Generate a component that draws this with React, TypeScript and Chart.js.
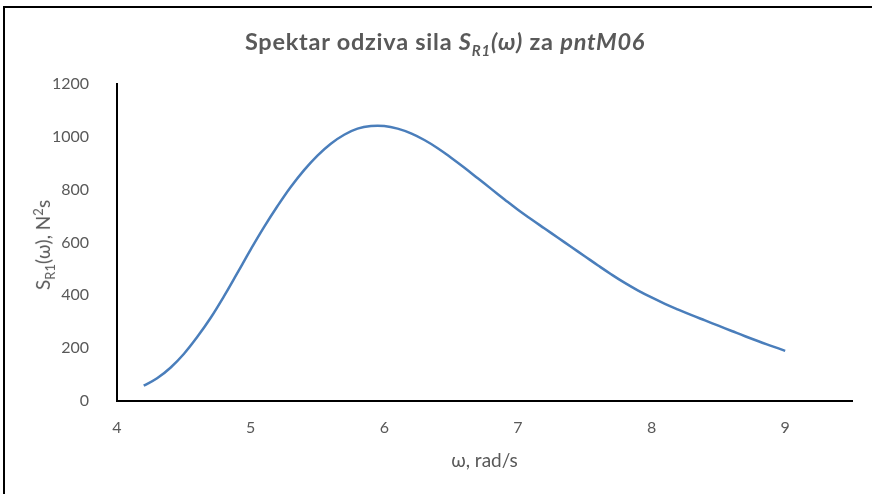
import React, { useEffect, useRef } from "react";
import { Chart, registerables } from "chart.js";

Chart.register(...registerables);

const omega = [
  4.2, 4.3, 4.4, 4.5, 4.6, 4.7, 4.8, 4.9, 5.0, 5.1, 5.2, 5.3, 5.4, 5.5, 5.6, 5.7,
  5.8, 5.9, 6.0, 6.1, 6.2, 6.3, 6.4, 6.5, 6.6, 6.7, 6.8, 6.9, 7.0, 7.1, 7.2, 7.3,
  7.4, 7.5, 7.6, 7.7, 7.8, 7.9, 8.0, 8.1, 8.2, 8.3, 8.4, 8.5, 8.6, 8.7, 8.8, 8.9, 9.0,
];
const sR1 = [
  58, 86, 126, 178, 242, 314, 396, 484, 573, 658, 737, 810, 874, 929, 974, 1008,
  1031, 1041, 1041, 1031, 1013, 988, 957, 921, 883, 843, 803, 763, 724, 688, 653, 618,
  583, 548, 513, 479, 447, 418, 392, 368, 346, 325, 305, 285, 265, 245, 226, 208, 190,
];
const xTicks = [4, 5, 6, 7, 8, 9];
const titleMain = "Spektar odziva sila ";
const titleEnd = " za pntM06";
const xTitle = "ω, rad/s";

const FONT = "Lato, 'Open Sans', sans-serif";
const GRAY = "#595959";

export default function App() {
  const ref = useRef<HTMLCanvasElement | null>(null);
  useEffect(() => {
    if (!ref.current) return;
    const chart = new Chart(ref.current, {
      type: "scatter",
      data: {
        datasets: [
          {
            data: omega.map((x, i) => ({ x, y: sR1[i] })),
            showLine: true,
            borderColor: "#4a7ebb",
            borderWidth: 2.5,
            pointRadius: 0,
            tension: 0.4,
            fill: false,
          },
        ],
      },
      options: {
        animation: false,
        responsive: false,
        devicePixelRatio: 1,
        layout: { padding: { left: 0, top: 84, right: 20, bottom: 20 } },
        plugins: { legend: { display: false }, tooltip: { enabled: false }, title: { display: false } },
        scales: {
          x: {
            type: "linear",
            min: 4,
            max: 9.5,
            grid: { display: false },
            border: { display: true, color: "#000", width: 2 },
            afterBuildTicks: (s: any) => {
              s.ticks = xTicks.map((v) => ({ value: v }));
            },
            afterFit: (s: any) => {
              s.height = 73;
            },
            ticks: { color: GRAY, font: { family: FONT, size: 16 }, padding: 9, callback: (v: any) => String(v) },
            title: { display: true, text: xTitle, color: GRAY, font: { family: FONT, size: 19 }, padding: { top: 4, bottom: 2 } },
          },
          y: {
            min: 0,
            max: 1200,
            grid: { display: false },
            border: { display: true, color: "#000", width: 2 },
            afterFit: (s: any) => {
              s.width = 117;
            },
            ticks: { stepSize: 200, color: GRAY, font: { family: FONT, size: 16 }, padding: 20, callback: (v: any) => String(v) },
          },
        },
      },
    });
    return () => chart.destroy();
  }, []);

  return (
    <div style={{ position: "absolute", left: 0, top: 0, width: 872, height: 494, overflow: "hidden", background: "#fff" }}>
      <div
        style={{
          position: "absolute",
          left: 3,
          top: 6,
          width: 900,
          height: 520,
          borderLeft: "2px solid #000",
          borderTop: "2px solid #000",
        }}
      />
      <canvas ref={ref} width={872} height={494} style={{ position: "absolute", left: 0, top: 0, width: 872, height: 494 }} />
      <div
        style={{
          position: "absolute",
          left: 0,
          width: 890,
          top: 26,
          textAlign: "center",
          fontFamily: FONT,
          fontWeight: 700,
          fontSize: 23.5,
          letterSpacing: 0.75,
          color: GRAY,
          whiteSpace: "nowrap",
          lineHeight: "30px",
        }}
      >
        {titleMain}
        <i>
          S<sub style={{ fontSize: 15 }}>R1</sub>(ω)
        </i>
        {titleEnd.slice(0, 4)}
        <i>{titleEnd.slice(4)}</i>
      </div>
      <div
        style={{
          position: "absolute",
          left: 44,
          top: 245,
          transform: "translate(-50%, -50%) rotate(-90deg)",
          fontFamily: FONT,
          fontSize: 19,
          color: GRAY,
          whiteSpace: "nowrap",
          lineHeight: "24px",
        }}
      >
        S<sub style={{ fontSize: 13 }}>R1</sub>(ω), N<sup style={{ fontSize: 13 }}>2</sup>s
      </div>
    </div>
  );
}
